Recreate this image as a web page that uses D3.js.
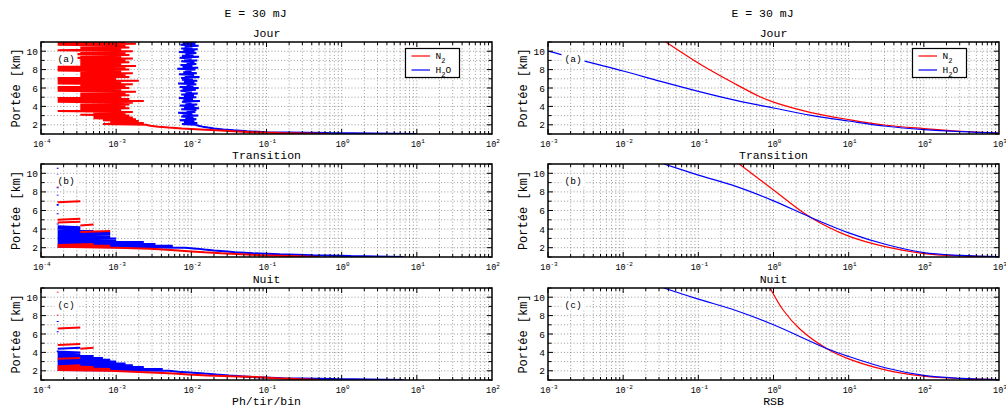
<!DOCTYPE html>
<html><head><meta charset="utf-8">
<script src="https://cdn.jsdelivr.net/npm/d3@7/dist/d3.min.js"></script>
<style>
body{margin:0;background:#fff}
svg{display:block}
text{font-family:"Liberation Mono","Courier New",monospace;fill:#000}
</style>
</head><body>
<svg id="c" width="1006" height="413"></svg>
<script>
// ---------------- DATA ----------------
const figureTitle = "E = 30 mJ";
const panelTitles = ["Jour", "Transition", "Nuit"];
const panelLetters = ["(a)", "(b)", "(c)"];
const seriesNames = ["N2", "H2O"];
const xLabelLeft = "Ph/tir/bin";
const xLabelRight = "RSB";
const yLabel = "Portée [km]";
const yTickValues = [2, 4, 6, 8, 10];
const xTickExpLeft = [-4, -3, -2, -1, 0, 1, 2];
const xTickExpRight = [-3, -2, -1, 0, 1, 2, 3];

// range bins of the photon-count profiles (km): first bin and bin width
const rangeStartKm = 1.0;
const rangeStepKm = 0.1;
const shotsPerProfile = 6000;   // counts / shots = Ph/tir/bin

// photon counts per bin, from 1.0 km (first) to 11.0 km (last); 0 = no photon
const countsN2Jour = [
  4000, 900, 400, 220, 130, 80, 45, 30, 22, 17,
  15, 4, 14, 5, 12, 4, 11, 3, 10, 3,
  9, 2, 8, 3, 10, 1, 7, 2, 9, 2,
  8, 2, 9, 2, 10, 1, 14, 1, 9, 1,
  7, 2, 9, 2, 8, 2, 11, 1, 7, 1,
  9, 1, 8, 2, 10, 1, 7, 1, 12, 1,
  6, 1, 9, 2, 8, 2, 10, 2, 7, 1,
  9, 1, 8, 1, 11, 2, 7, 2, 9, 2,
  8, 2, 10, 1, 7, 2, 9, 1, 8, 2,
  10, 1, 7, 2, 9, 2, 8, 1, 11, 1, 8];
const countsH2OJour = [
  60000, 4000, 600, 330, 220, 160, 120, 100, 85, 75,
  68, 45, 72, 48, 66, 42, 70, 50, 64, 44,
  74, 46, 62, 40, 68, 52, 70, 44, 76, 48,
  66, 42, 72, 50, 60, 45, 78, 47, 63, 41,
  70, 48, 65, 44, 73, 50, 61, 43, 69, 46,
  75, 42, 64, 52, 70, 40, 66, 48, 72, 45,
  63, 44, 77, 49, 65, 41, 71, 47, 60, 50,
  68, 39, 74, 46, 62, 43, 70, 52, 66, 44,
  72, 48, 60, 42, 76, 45, 64, 50, 70, 41,
  66, 47, 73, 44, 62, 49, 75, 43, 68, 46, 70];
const countsN2Transition = [
  3000, 1200, 500, 280, 150, 90, 60, 40, 25, 17,
  6, 1, 5, 1, 3, 0, 1, 0, 0, 0,
  0, 0, 0, 0, 0, 0, 0, 2, 5, 0,
  0, 0, 0, 0, 2, 3, 0, 1, 2, 0,
  1, 2, 0, 0, 0, 0, 0, 0, 0, 0,
  0, 0, 0, 0, 0, 0, 0, 0, 0, 1,
  2, 0, 0, 0, 0, 0, 0, 0, 0, 0,
  0, 0, 0, 0, 0, 1, 1, 0, 0, 0,
  0, 0, 0, 0, 1, 1, 0, 0, 0, 0,
  0, 0, 0, 0, 0, 0, 0, 0, 0, 0, 0];
const countsH2OTransition = [
  40000, 8000, 2500, 900, 400, 230, 180, 120, 90, 70,
  50, 1, 34, 1, 20, 1, 14, 1, 6, 1,
  6, 1, 5, 1, 5, 1, 5, 1, 3, 1,
  2, 1, 2, 1, 0, 1, 1, 0, 1, 0,
  0, 0, 0, 0, 0, 0, 1, 1, 0, 0,
  0, 0, 0, 0, 0, 1, 1, 1, 0, 0,
  0, 0, 0, 0, 0, 0, 1, 1, 0, 0,
  0, 0, 0, 0, 1, 1, 0, 0, 0, 0,
  0, 0, 0, 0, 0, 0, 0, 0, 1, 1,
  0, 0, 0, 0, 0, 1, 1, 0, 0, 0, 0];
const countsN2Nuit = [
  3000, 1500, 800, 490, 200, 97, 55, 35, 21, 10,
  5, 1, 5, 1, 3, 1, 2, 0, 0, 0,
  0, 0, 0, 1, 2, 0, 0, 0, 0, 0,
  0, 0, 0, 0, 2, 3, 0, 0, 1, 2,
  0, 0, 0, 0, 0, 0, 0, 0, 0, 0,
  0, 0, 0, 0, 0, 0, 1, 2, 0, 0,
  0, 0, 0, 0, 0, 0, 0, 0, 0, 0,
  1, 1, 0, 0, 0, 0, 0, 0, 0, 0,
  0, 0, 0, 0, 1, 1, 0, 0, 0, 0,
  0, 0, 0, 0, 0, 1, 1, 0, 0, 0, 0];
const countsH2ONuit = [
  40000, 5000, 1000, 450, 280, 190, 130, 90, 63, 40,
  30, 1, 25, 1, 14, 1, 10, 1, 8, 1,
  6, 1, 5, 1, 4, 1, 3, 1, 2, 1,
  2, 1, 1, 0, 1, 2, 0, 0, 0, 0,
  0, 0, 0, 0, 0, 0, 0, 0, 0, 0,
  0, 0, 1, 1, 0, 0, 0, 0, 0, 0,
  0, 0, 0, 1, 1, 0, 0, 0, 0, 0,
  0, 0, 0, 0, 0, 0, 0, 0, 1, 1,
  0, 0, 0, 0, 0, 0, 0, 0, 0, 0,
  0, 0, 0, 0, 0, 0, 0, 0, 0, 0, 0];

// signal-to-noise ratio curves: range (km) and RSB
const rsbKmN2Jour  = [11, 8.58, 6.4, 5.05, 4.46, 3.33, 2.57, 1.95, 1.59, 1.3, 1.1, 1.0];
const rsbN2Jour    = [0.037, 0.106, 0.316, 0.66, 1, 3.16, 10, 31.6, 100, 316, 1000, 3000];
const rsbKmH2OJour = [10.0, 9.6, 8.9, 7.85, 6.72, 5.64, 4.66, 3.83, 3.03, 2.41, 1.84, 1.48, 1.25, 1.1, 1.0];
const rsbH2OJour   = [0.001, 0.00155, 0.00316, 0.01, 0.0316, 0.1, 0.316, 1, 3.16, 10, 31.6, 100, 316, 1000, 3000];
const rsbKmN2Transition  = [11, 8.2, 5.3, 3.24, 2.08, 1.37, 1.12, 1.03];
const rsbN2Transition    = [0.35, 1, 3.05, 10, 31.6, 100, 316, 1000];
const rsbKmH2OTransition = [11, 9.81, 8.59, 7.04, 5.3, 3.6, 2.34, 1.47, 1.17, 1.03];
const rsbH2OTransition   = [0.0347, 0.1, 0.316, 1, 3.05, 10, 31.6, 100, 316, 1000];
const rsbKmN2Nuit  = [11, 8.58, 6.55, 4.43, 3.3, 2.08, 1.43, 1.15, 1.03];
const rsbN2Nuit    = [0.9, 1.35, 2.24, 5.08, 10, 31.6, 100, 316, 1000];
const rsbKmH2ONuit = [11, 9.79, 8.55, 7.0, 4.43, 3.56, 2.3, 1.5, 1.18, 1.03];
const rsbH2ONuit   = [0.0347, 0.1, 0.316, 1, 5.08, 10, 31.6, 100, 316, 1000];

const colors = {N2: "#ff0000", H2O: "#0000ff"};

// ---------------- LAYOUT ----------------
const svg = d3.select("#c");
const cols = [{x0: 41, x1: 492, dom: [1e-4, 1e2], exps: xTickExpLeft, xlab: xLabelLeft},
              {x0: 548, x1: 999, dom: [1e-3, 1e3], exps: xTickExpRight, xlab: xLabelRight}];
const rows = [{y0: 42, y1: 134}, {y0: 164, y1: 257}, {y0: 288, y1: 380}];

const countsData = [
  [countsN2Jour, countsH2OJour],
  [countsN2Transition, countsH2OTransition],
  [countsN2Nuit, countsH2ONuit]];
const rsbData = [
  [[rsbKmN2Jour, rsbN2Jour], [rsbKmH2OJour, rsbH2OJour]],
  [[rsbKmN2Transition, rsbN2Transition], [rsbKmH2OTransition, rsbH2OTransition]],
  [[rsbKmN2Nuit, rsbN2Nuit], [rsbKmH2ONuit, rsbH2ONuit]]];

const defs = svg.append("defs");

function drawPanel(ci, ri) {
  const c = cols[ci], r = rows[ri];
  const x = d3.scaleLog().domain(c.dom).range([c.x0, c.x1]);
  const y = d3.scaleLinear().domain([1, 11]).range([r.y1, r.y0]);
  const g = svg.append("g");
  const clipId = `clip${ci}${ri}`;
  defs.append("clipPath").attr("id", clipId).append("rect")
    .attr("x", c.x0).attr("y", r.y0).attr("width", c.x1 - c.x0).attr("height", r.y1 - r.y0);

  // grid
  const grid = g.append("g").attr("stroke", "#6e6e6e").attr("stroke-width", 0.7)
    .attr("stroke-dasharray", "1,2.2").attr("fill", "none");
  const e0 = Math.round(Math.log10(c.dom[0])), e1 = Math.round(Math.log10(c.dom[1]));
  const xMinor = [];
  for (let e = e0; e < e1; e++) for (let m = 1; m <= 9; m++) xMinor.push({v: m * Math.pow(10, e), major: m === 1});
  xMinor.filter(d => d.v > c.dom[0] * 1.0001).forEach(d => {
    grid.append("line").attr("x1", x(d.v)).attr("x2", x(d.v)).attr("y1", r.y0).attr("y2", r.y1);
  });
  d3.range(2, 11).forEach(v => {
    grid.append("line").attr("x1", c.x0).attr("x2", c.x1).attr("y1", y(v)).attr("y2", y(v));
  });

  // data
  const dg = g.append("g").attr("clip-path", `url(#${clipId})`);
  if (ci === 0) {
    const sets = countsData[ri];
    const line = d3.line()
      .defined(d => d.n > 0)
      .x(d => x(d.n / shotsPerProfile))
      .y(d => y(d.km));
    [1, 0].forEach(si => {
      const pts = sets[si].map((n, i) => ({n, km: rangeStartKm + i * rangeStepKm}));
      dg.append("path").datum(pts).attr("d", line).attr("fill", "none")
        .attr("stroke", colors[seriesNames[si]]).attr("stroke-width", 2)
        .attr("stroke-linejoin", "bevel");
    });
  } else {
    const sets = rsbData[ri];
    const line = d3.line().x(d => x(d.v)).y(d => y(d.km)).curve(d3.curveCatmullRom.alpha(0.5));
    [0, 1].forEach(si => {
      const [kms, vals] = sets[si];
      const pts = kms.map((km, i) => ({km, v: vals[i]}));
      dg.append("path").datum(pts).attr("d", line).attr("fill", "none")
        .attr("stroke", colors[seriesNames[si]]).attr("stroke-width", 1.2);
    });
  }

  // panel letter with white box
  const lx = c.x0 + 16.5, ly = r.y0 + 19.5;
  g.append("rect").attr("x", lx - 3).attr("y", ly - 9).attr("width", 23).attr("height", 12).attr("fill", "#fff");
  g.append("text").attr("x", lx).attr("y", ly).attr("font-size", 9.5).text(panelLetters[ri]);

  // ticks
  const tk = g.append("g").attr("stroke", "#000").attr("stroke-width", 1);
  xMinor.forEach(d => {
    const L = d.major ? 5 : 3;
    const xx = x(d.v);
    tk.append("line").attr("x1", xx).attr("x2", xx).attr("y1", r.y1).attr("y2", r.y1 - L);
    tk.append("line").attr("x1", xx).attr("x2", xx).attr("y1", r.y0).attr("y2", r.y0 + L);
  });
  d3.range(1, 12).forEach(v => {
    const L = v % 2 === 0 ? 5 : 3.5;
    tk.append("line").attr("x1", c.x0).attr("x2", c.x0 + L).attr("y1", y(v)).attr("y2", y(v));
    tk.append("line").attr("x1", c.x1).attr("x2", c.x1 - L).attr("y1", y(v)).attr("y2", y(v));
  });

  // frame
  g.append("rect").attr("x", c.x0).attr("y", r.y0).attr("width", c.x1 - c.x0).attr("height", r.y1 - r.y0)
    .attr("fill", "none").attr("stroke", "#000").attr("stroke-width", 1.5);

  // tick labels
  c.exps.forEach(e => {
    const t = g.append("text").attr("x", x(Math.pow(10, e)) + 1).attr("y", r.y1 + 12.5).attr("text-anchor", "middle");
    t.append("tspan").attr("font-size", 8.5).text("10");
    t.append("tspan").attr("font-size", 6).attr("dy", -4).text(String(e));
  });
  yTickValues.forEach(v => {
    g.append("text").attr("x", c.x0 - 3).attr("y", y(v) + 3.5).attr("text-anchor", "end")
      .attr("font-size", 9.5).text(v);
  });

  // y label
  g.append("text").attr("transform", `translate(${c.x0 - 21},${(r.y0 + r.y1) / 2}) rotate(-90)`)
    .attr("text-anchor", "middle").attr("font-size", 12).text(yLabel);

  // row title
  g.append("text").attr("x", (c.x0 + c.x1) / 2).attr("y", r.y0 - 5).attr("text-anchor", "middle")
    .attr("font-size", 11.5).text(panelTitles[ri]);

  if (ri === 0) {
    g.append("text").attr("x", (c.x0 + c.x1) / 2 - 11).attr("y", 17).attr("text-anchor", "middle")
      .attr("font-size", 11.5).text(figureTitle);
    // legend
    const bx = c.x1 - 86.5, by = 48.5, bw = 54, bh = 29;
    const lg = g.append("g");
    lg.append("rect").attr("x", bx).attr("y", by).attr("width", bw).attr("height", bh)
      .attr("fill", "#fff").attr("stroke", "#000").attr("stroke-width", 1.2);
    seriesNames.forEach((s, i) => {
      const yy = by + 7.5 + i * 14;
      lg.append("line").attr("x1", bx + 6).attr("x2", bx + 24.5).attr("y1", yy).attr("y2", yy)
        .attr("stroke", colors[s]).attr("stroke-width", 1.2);
      const t = lg.append("text").attr("x", bx + 30).attr("y", yy + 3).attr("font-size", 9.5);
      if (s === "N2") {
        t.append("tspan").text("N");
        t.append("tspan").attr("dy", 4).attr("font-size", 7).text("2");
      } else {
        t.append("tspan").text("H");
        t.append("tspan").attr("dy", 4).attr("font-size", 7).text("2");
        t.append("tspan").attr("dy", -4).text("O");
      }
    });
  }
  if (ri === 2) {
    g.append("text").attr("x", (c.x0 + c.x1) / 2).attr("y", 405).attr("text-anchor", "middle")
      .attr("font-size", 11.5).text(c.xlab);
  }
}

for (let ci = 0; ci < 2; ci++) for (let ri = 0; ri < 3; ri++) drawPanel(ci, ri);
</script>
</body></html>
